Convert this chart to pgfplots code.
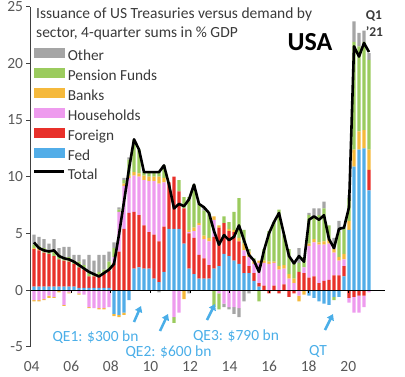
\documentclass[border=0pt]{standalone}
\usepackage{pgfplots}
\usepackage{pgfplotstable}
\pgfplotsset{compat=1.18}
\usepackage{fontspec}
\setmainfont{Carlito}
\usetikzlibrary{arrows.meta}

\definecolor{cOther}{HTML}{A5A5A5}
\definecolor{cPen}{HTML}{9BCB5E}
\definecolor{cBank}{HTML}{F5B93C}
\definecolor{cHH}{HTML}{EE9BEE}
\definecolor{cFor}{HTML}{E8302A}
\definecolor{cFed}{HTML}{52ADE8}
\definecolor{cAnn}{HTML}{4AAEE8}
\definecolor{cTxt}{HTML}{3A3A3A}
\definecolor{cTick}{HTML}{595959}

\pgfplotstableread{
q fedp forp hhp bankp penp othp fedn forn hhn bankn penn othn tot
0 0.3 3.3 0 0.1 0.3 0.9 0 0 -0.9 -0.1 0 0 4.2
1 0.3 3.2 0 0.1 0.3 0.8 0 0 -0.9 -0.1 0 0 3.7
2 0.3 3.0 0 0 0.4 0.8 0 0 -0.8 -0.1 0 0 3.5
3 0.3 2.9 0 0 0.3 0.6 0 0 -0.5 -0.2 0 0 3.4
4 0.3 2.7 0 0 0.4 1.1 0 0 -0.6 -0.1 0 0 3.5
5 0.3 2.4 0 0 0.4 0.6 0 0 -0.1 -0.1 0 0 3.0
6 0.3 2.3 0 0 0.3 0.9 0 0 -1.3 -0.1 0 0 2.8
7 0.3 2.2 0 0 0.4 0.9 0 0 -0.2 -0.1 0 0 2.7
8 0.3 2.0 0 0 0.3 0.5 0 0 -0.1 0 0 0 2.5
9 0.2 1.8 0 0 0.5 0.6 0 0 -0.3 -0.1 0 0 2.2
10 0.2 1.6 0 0 0.4 0.5 0 0 -0.4 0 0 0 1.9
11 0.2 1.0 0 0 0.3 1.6 0 0 -1.5 -0.1 0 0 1.6
12 0.2 1.0 0 0 0.3 1.1 0 0 -1.6 0 0 0 1.4
13 0.2 1.1 0 0 0.3 1.5 0 0 -1.6 -0.1 0 0 1.2
14 0.2 1.2 0 0 0.4 1.3 0 0 -1.6 -0.1 0 0 1.5
15 0.2 1.5 0 0 0.8 0.9 0 0 -1.5 0 0 0 1.8
16 0 2.4 0.5 0 0.8 0.5 -2.1 0 0 -0.2 0 0 2.3
17 0 3.4 3.5 0 0.2 0.2 -2.2 0 0 -0.2 0 0 4.9
18 0 5.4 3.8 0.2 0.3 0.2 -2.0 0 0 -0.2 0 0 7.8
19 0 6.8 3.1 0.2 1.4 0.2 -0.9 0 0 0 0 0 10.7
20 1.9 5.0 3.2 0.3 2.8 0 0 0 0 0 0 0 13.3
21 2.0 4.6 3.4 0.3 2.1 0 0 0 0 0 0 0 12.4
22 1.9 3.8 4.0 0.4 0.3 0 0 0 0 0 0 0 10.4
23 1.9 3.2 4.5 0.4 0.4 0 0 0 0 0 0 0 10.4
24 1.0 3.9 4.7 0.4 0.4 0 0 0 0 0 0 0 10.4
25 0.7 3.6 5.1 0.6 0.4 0 0 0 0 0 0 -0.2 10.4
26 1.6 4.0 3.9 0.4 1.1 0 0 0 0 0 0 0 11.0
27 5.4 4.1 0 0 0 0 0 0 0 0 0 0 9.3
28 5.4 4.6 0 0 0 0 0 0 -2.4 0 -0.5 0 7.2
29 5.4 3.3 0 0 1.0 0 0 0 -2.0 0 0 0 7.6
30 4.1 3.1 0 0 1.0 0 0 0 0 -0.8 0 0 7.4
31 1.9 3.1 0.1 0.2 2.9 0 0 0 0 0 0 -0.3 8.0
32 1.4 3.2 0.6 0.3 3.8 0 0 0 0 0 0 0 9.3
33 1.0 2.1 2.6 0.2 1.7 0 0 0 0 0 0 0 7.6
34 1.0 1.8 1.7 0.3 2.2 0.3 0 0 0 0 0 0 7.3
35 1.0 1.2 2.1 0.3 2.2 0 0 0 0 0 0 0 6.8
36 1.9 2.8 1.5 0.3 0 0 0 0 0 0 -1.5 0 5.2
37 2.1 3.4 0 0.2 0 0 0 0 -0.3 0 -1.4 0 4.0
38 3.2 2.7 0 0 0.6 0 0 0 -1.2 0 0 -0.3 4.85
39 3.0 2.2 0 0.2 0.6 0 0 0 -1.5 0 0 -0.2 4.4
40 2.6 2.5 0 0.2 1.6 0 0 0 -1.5 0 0 -0.6 4.7
41 2.3 2.0 0 0.3 3.5 0 0 0 -1.6 0 0 -0.8 5.7
42 1.5 1.5 0.5 0.6 1.2 0 0 0 0 0 0 -1.0 4.4
43 1.5 0.6 0.8 0.5 0.2 0 0 0 0 0 0 -0.3 3.1
44 0.8 0.7 0.8 0.3 0.2 0 0 0 0 0 0 0 2.6
45 0.3 0.3 1.8 0.2 0 0 0 0 0 0 -1.0 0 1.6
46 0 0.4 2.0 0.2 1.0 0 0 0 0 0 0 0 3.5
47 0 0 2.3 0.2 2.7 0 0 -0.3 0 0 0 0 5.0
48 0 0.4 2.0 0.1 3.5 0 0 0 0 0 0 0 6.0
49 0 0 1.8 0.3 5.0 0 0 -0.3 0 0 0 0 6.8
50 0 0.5 1.4 0.3 2.7 0 0 0 0 0 0 0 4.9
51 0 0 1.0 0.4 2.2 0 0 -0.6 0 0 0 0 3.0
52 0 0 0.6 0.4 1.5 0 0 -0.3 0 0 0 0 2.35
53 0 1.6 0 0 0.8 1.3 0 0 -0.5 -0.5 0 0 3.0
54 0 1.5 0.5 0 0.9 0 0 0 0 -0.4 0 0 2.5
55 0 1.1 2.8 0.2 2.5 0.2 -0.5 0 0 0 0 0 6.2
56 0 1.2 3.0 0.3 2.0 0.7 -0.7 0 0 0 0 0 6.5
57 0 0.6 3.4 0.2 2.4 0.6 -1.0 0 0 0 0 0 6.2
58 0 0.8 3.2 0.3 2.9 0.6 -1.2 0 0 0 0 0 6.6
59 0 0.9 3.2 0.4 1.2 0 -1.3 0 0 0 0 0 4.5
60 0 1.3 2.0 0.3 0 1.0 -0.6 0 0 0 -0.3 0 3.7
61 0 1.3 1.3 0.3 2.2 1.0 -0.6 0 0 0 0 0 5.4
62 1.2 0.9 0.6 0.5 2.3 0 0 0 0 0 0 0 5.5
63 5.3 0 0 0.8 2.0 0.3 0 -0.7 -0.4 0 0 0 7.3
64 10.9 0 0 1.5 9.5 1.8 0 -0.6 -1.4 0 0 0 21.5
65 12.4 0 0 1.6 7.5 1.2 0 -0.5 -1.5 0 0 0 20.6
66 12.5 0 0 1.6 7.8 1.0 0 -0.5 -1.0 0 0 0 21.8
67 8.8 1.8 0 1.8 7.9 0.6 0 0 -0.2 0 0 0 21.0
}\data

\pgfplotsset{
  base/.style={
    scale only axis, width=354.5pt, height=340pt,
    xmin=-0.7, xmax=70.2, ymin=-5, ymax=25,
    at={(0pt,0pt)}, anchor=south west,
  },
  bars/.style={base, hide axis, ybar stacked, bar width=3.2pt},
  patchleg/.style={legend image code/.code={\fill[#1] (0pt,0pt) rectangle (30pt,8.5pt);}},
  lineleg/.style={legend image code/.code={\draw[black, line width=2.6pt] (0pt,4.2pt) -- (30pt,4.2pt);}},
}

\begin{document}
\begin{tikzpicture}
\useasboundingbox (-30.5pt,-29.3pt) rectangle (374.5pt,346.7pt);

% positive contributions
\begin{axis}[bars]
\addplot[fill=cFed, draw=none] table[x=q, y=fedp]{\data};
\addplot[fill=cFor, draw=none] table[x=q, y=forp]{\data};
\addplot[fill=cHH, draw=none] table[x=q, y=hhp]{\data};
\addplot[fill=cBank, draw=none] table[x=q, y=bankp]{\data};
\addplot[fill=cPen, draw=none] table[x=q, y=penp]{\data};
\addplot[fill=cOther, draw=none] table[x=q, y=othp]{\data};
\end{axis}

% negative contributions
\begin{axis}[bars]
\addplot[fill=cFed, draw=none] table[x=q, y=fedn]{\data};
\addplot[fill=cFor, draw=none] table[x=q, y=forn]{\data};
\addplot[fill=cHH, draw=none] table[x=q, y=hhn]{\data};
\addplot[fill=cBank, draw=none] table[x=q, y=bankn]{\data};
\addplot[fill=cPen, draw=none] table[x=q, y=penn]{\data};
\addplot[fill=cOther, draw=none] table[x=q, y=othn]{\data};
\end{axis}

% axes, total line, legend
\begin{axis}[base,
  axis y line*=left, axis x line*=bottom,
  x axis line style={draw=none}, xtick style={draw=none},
  y axis line style={black!75, line width=0.8pt},
  ytick style={black!75, line width=0.8pt},
  tick align=outside, major tick length=4pt,
  xtick={-0.46,7.45,15.37,23.28,31.2,39.11,47.03,54.94,62.86},
  xticklabels={04,06,08,10,12,14,16,18,20},
  ytick={-5,0,5,10,15,20,25},
  yticklabels={-5,0,5,10,15,20,25},
  tick label style={font=\fontsize{15.5}{17}\selectfont, text=cTick},
  xticklabel style={inner sep=1pt, yshift=-9.5pt},
  legend cell align=left,
  legend style={at={(0.007,0.878)}, anchor=north west, draw=none, fill=none,
    inner sep=0pt,
    font=\fontsize{15.3}{17}\selectfont, text=cTxt,
    nodes={inner sep=1pt, text height=10pt, text depth=3pt},
    row sep=3.8pt,
    /tikz/every odd column/.append style={column sep=1pt}},
]
\addlegendimage{patchleg=cOther}
\addlegendimage{patchleg=cPen}
\addlegendimage{patchleg=cBank}
\addlegendimage{patchleg=cHH}
\addlegendimage{patchleg=cFor}
\addlegendimage{patchleg=cFed}
\draw[black, line width=0.9pt] (axis cs:-0.7,0) -- (axis cs:70.2,0);
\draw[black, line width=0.8pt] (axis cs:7.45,0) -- ++(0pt,-3pt);
\draw[black, line width=0.8pt] (axis cs:15.37,0) -- ++(0pt,-3pt);
\draw[black, line width=0.8pt] (axis cs:23.28,0) -- ++(0pt,-3pt);
\draw[black, line width=0.8pt] (axis cs:31.2,0) -- ++(0pt,-3pt);
\draw[black, line width=0.8pt] (axis cs:39.11,0) -- ++(0pt,-3pt);
\draw[black, line width=0.8pt] (axis cs:47.03,0) -- ++(0pt,-3pt);
\draw[black, line width=0.8pt] (axis cs:54.94,0) -- ++(0pt,-3pt);
\draw[black, line width=0.8pt] (axis cs:62.86,0) -- ++(0pt,-3pt);
\addplot[black, line width=2.6pt, line join=round, mark=none, lineleg]
  table[x=q, y=tot]{\data};
\legend{Other,Pension Funds,Banks,Households,Foreign,Fed,Total}
\end{axis}

% titles
\node[anchor=base west, inner sep=0pt, font=\fontsize{15.5}{18}\selectfont, text=cTxt]
  at (5.5pt,328.2pt) {Issuance of US Treasuries versus demand by};
\node[anchor=base west, inner sep=0pt, font=\fontsize{15.5}{18}\selectfont, text=cTxt]
  at (5.5pt,309.2pt) {sector, 4-quarter sums in \% GDP};
\node[anchor=base, inner sep=0pt, font=\bfseries\fontsize{26}{30}\selectfont]
  at (279.5pt,296.7pt) {USA};
\node[anchor=base, inner sep=0pt, font=\bfseries\fontsize{13.5}{15}\selectfont, text=cTxt]
  at (343.5pt,327.4pt) {Q1};
\node[anchor=base, inner sep=0pt, font=\bfseries\fontsize{13.5}{15}\selectfont, text=cTxt]
  at (344pt,310pt) {'21};

% QE annotations
\begin{scope}[cAnn, line width=2.5pt, -{Triangle[length=6pt,width=7.5pt]}]
\draw (103.5pt,24.7pt) -- (110.5pt,40.7pt);
\draw (129.5pt,15.7pt) -- (137.5pt,32.7pt);
\draw (176.5pt,26.7pt) -- (184.5pt,42.7pt);
\draw (294.5pt,16.7pt) -- (302.5pt,32.7pt);
\end{scope}
\begin{scope}[every node/.style={anchor=base, inner sep=0pt, text=cAnn, font=\fontsize{15.5}{17}\selectfont}]
\node at (65pt,5.7pt) {QE1: \$300 bn};
\node at (138pt,-9.3pt) {QE2: \$600 bn};
\node at (205.5pt,6.7pt) {QE3: \$790 bn};
\node at (287.5pt,-8.3pt) {QT};
\end{scope}
\end{tikzpicture}
\end{document}
